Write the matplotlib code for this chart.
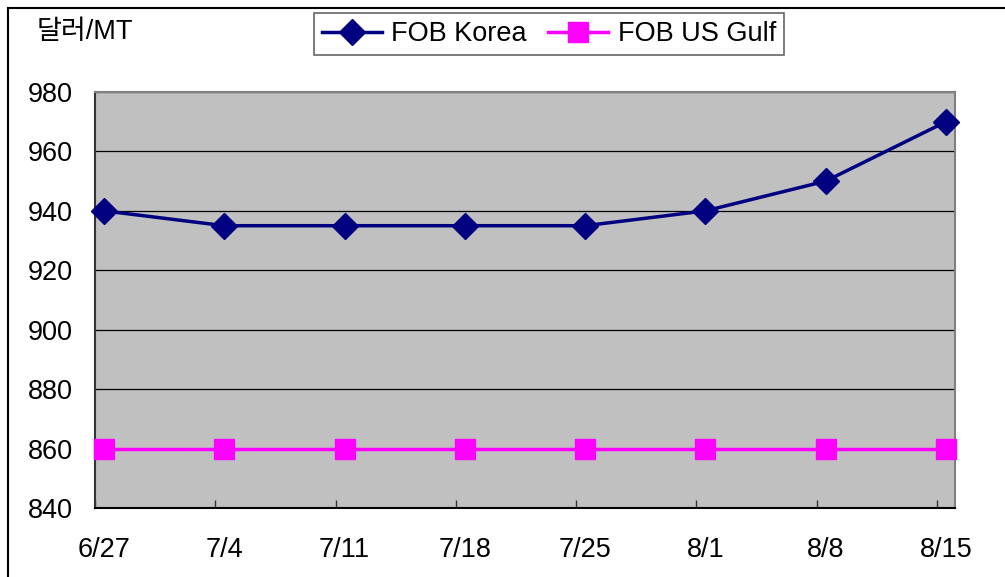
import matplotlib
matplotlib.use('Agg')
import matplotlib.pyplot as plt
from matplotlib.patches import Rectangle

plt.rcParams['font.family'] = ['Liberation Sans', 'Noto Sans CJK KR', 'DejaVu Sans']

dates = ['6/27', '7/4', '7/11', '7/18', '7/25', '8/1', '8/8', '8/15']
fob_korea = [940, 935, 935, 935, 935, 940, 950, 970]
fob_us_gulf = [860, 860, 860, 860, 860, 860, 860, 860]
y_ticks = [840, 860, 880, 900, 920, 940, 960, 980]

FS = 19.5

fig = plt.figure(figsize=(10.05, 5.77), dpi=100)
ax = fig.add_axes([95 / 1005, 1 - 508 / 577, 860 / 1005, 416 / 577])

# outer frame of the chart
fig.patches.append(Rectangle((8 / 1005, -0.02), 1.5, 1 - 8 / 577 + 0.02,
                             transform=fig.transFigure, fill=False,
                             edgecolor='black', linewidth=1.5))

ax.set_facecolor('#C0C0C0')
x = list(range(len(dates)))
ax.plot(x, fob_korea, color='#000080', linewidth=2.5, marker='D', markersize=13,
        label='FOB Korea', clip_on=False, zorder=3)
ax.plot(x, fob_us_gulf, color='#FF00FF', linewidth=2.5, marker='s', markersize=14.4,
        label='FOB US Gulf', clip_on=False, zorder=3)

ax.set_xlim(-0.075, 7.075)
ax.set_ylim(840, 980)
ax.set_yticks(y_ticks)
ax.set_xticks(x)
ax.set_xticklabels(dates)
# Excel-style tick marks sit a little left of the category points
ax.set_xticks([k - 0.075 for k in x], minor=True)
ax.yaxis.grid(True, color='black', linewidth=0.9)
ax.set_axisbelow(True)
ax.tick_params(axis='x', which='major', length=0, pad=21, labelsize=FS)
ax.tick_params(axis='x', which='minor', direction='in', length=6, width=1, color='#333333')
ax.tick_params(axis='y', length=0, pad=16, labelsize=FS)

for side in ['top', 'right']:
    ax.spines[side].set_color('#808080')
    ax.spines[side].set_linewidth(1.5)
ax.spines['left'].set_color('#333333')
ax.spines['left'].set_linewidth(1.5)
ax.spines['bottom'].set_color('black')
ax.spines['bottom'].set_linewidth(1.5)

fig.text(37 / 1005, 1 - 32 / 577, '달러/MT', fontsize=FS, va='center', ha='left')

leg = fig.legend(loc='center', bbox_to_anchor=(549 / 1005, 1 - 34 / 577), ncol=2,
                 fontsize=FS, frameon=True, fancybox=False, edgecolor='#404040',
                 borderpad=0.3, handlelength=2.2, handletextpad=0.35, columnspacing=0.8,
                 borderaxespad=0)
leg.get_frame().set_linewidth(1.2)

fig.savefig('out.png', dpi=100)
